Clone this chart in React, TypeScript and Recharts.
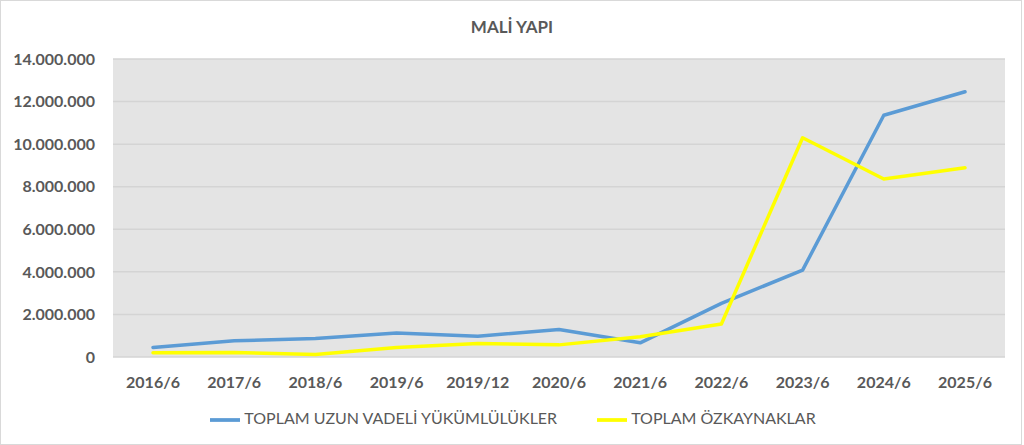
import React from 'react';
import { LineChart, Line, XAxis, YAxis, CartesianGrid, Legend } from 'recharts';

const periods = ['2016/6', '2017/6', '2018/6', '2019/6', '2019/12', '2020/6', '2021/6', '2022/6', '2023/6', '2024/6', '2025/6'];
const uzunVadeli = [450000, 760000, 870000, 1130000, 980000, 1290000, 665000, 2520000, 4080000, 11360000, 12460000];
const ozkaynaklar = [195000, 210000, 115000, 445000, 635000, 570000, 950000, 1550000, 10300000, 8360000, 8890000];
const yTicks = [0, 2000000, 4000000, 6000000, 8000000, 10000000, 12000000, 14000000];

const data = periods.map((p, i) => ({ period: p, uzun: uzunVadeli[i], oz: ozkaynaklar[i] }));

const FONT = 'Lato, "Liberation Sans", sans-serif';
const TEXT = '#595959';

function formatTr(v: number) {
  return v.toLocaleString('de-DE');
}

function App() {
  return (
    <div
      style={{
        position: 'relative',
        width: 1020,
        height: 443,
        background: '#fff',
        border: '1px solid #d9d9d9',
        fontFamily: FONT,
      }}
    >
      <style>{`body{margin:0}`}</style>
      <div
        style={{
          position: 'absolute',
          top: 15,
          left: 0,
          width: 1022,
          textAlign: 'center',
          fontSize: 17,
          fontWeight: 700,
          color: TEXT,
        }}
      >
        MALİ YAPI
      </div>
      <LineChart width={1020} height={443} data={data} margin={{ top: 58, right: 16, bottom: 17, left: 0 }}>
        <CartesianGrid vertical={false} fill="#e4e4e4" stroke="#d4d4d4" strokeWidth={1.5} />
        <XAxis
          dataKey="period"
          padding={{ left: 40, right: 40 }}
          axisLine={false}
          tickLine={false}
          tickSize={0}
          tickMargin={20}
          height={40}
          tick={{ fill: TEXT, fontSize: 16, fontWeight: 700, fontFamily: FONT }}
          interval={0}
        />
        <YAxis
          width={112}
          domain={[0, 14000000]}
          ticks={yTicks}
          axisLine={false}
          tickLine={false}
          tickSize={0}
          tickMargin={18}
          tickFormatter={formatTr}
          tick={{ fill: TEXT, fontSize: 16, fontWeight: 700, fontFamily: FONT }}
        />
        <Legend
          iconType="plainline"
          iconSize={30}
          wrapperStyle={{ top: 404, left: 22, width: 1020, fontFamily: FONT, fontSize: 16 }}
          formatter={(value: string) => <span style={{ color: TEXT, marginRight: 30 }}>{value}</span>}
        />
        <Line
          type="linear"
          dataKey="uzun"
          name="TOPLAM UZUN VADELİ YÜKÜMLÜLÜKLER"
          stroke="#5b9bd5"
          strokeWidth={3.5}
          strokeLinecap="round"
          strokeLinejoin="round"
          dot={false}
          activeDot={false}
          isAnimationActive={false}
        />
        <Line
          type="linear"
          dataKey="oz"
          name="TOPLAM ÖZKAYNAKLAR"
          stroke="#ffff00"
          strokeWidth={3.5}
          strokeLinecap="round"
          strokeLinejoin="round"
          dot={false}
          activeDot={false}
          isAnimationActive={false}
        />
      </LineChart>
    </div>
  );
}

export default App;
